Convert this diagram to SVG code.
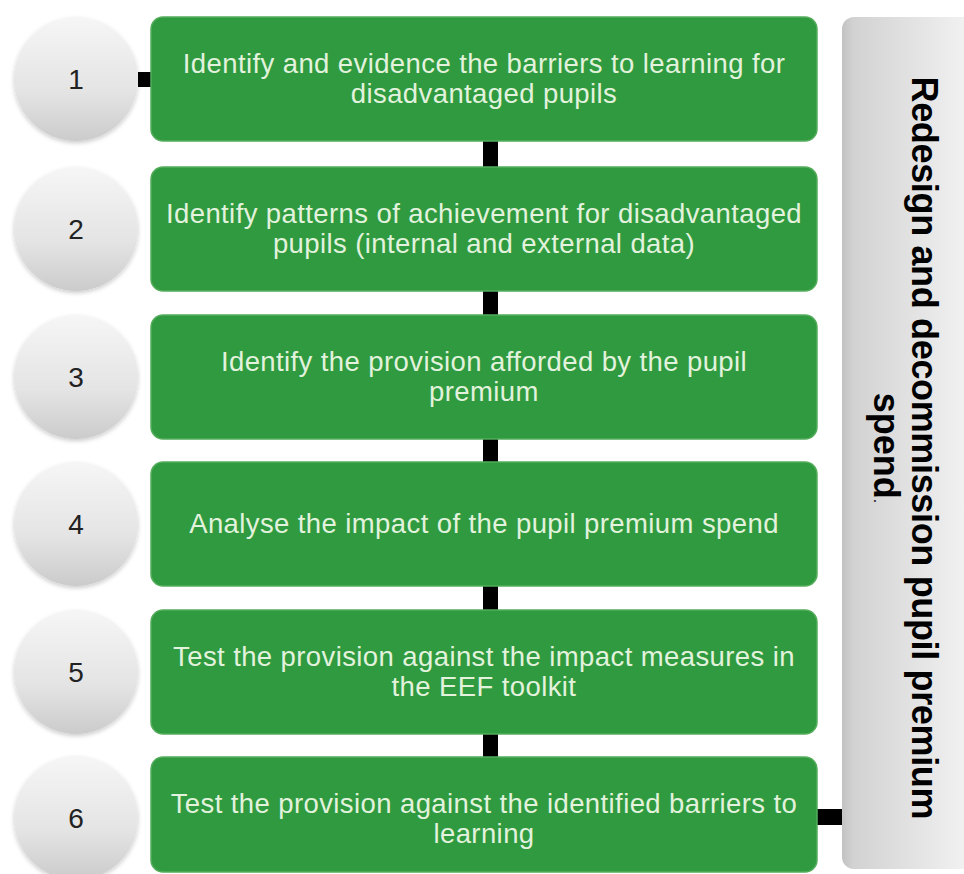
<svg xmlns="http://www.w3.org/2000/svg" width="964" height="874" viewBox="0 0 964 874">
  <defs>
    <linearGradient id="ballFill" x1="0" y1="0" x2="0" y2="1">
      <stop offset="0" stop-color="#f6f6f6"/>
      <stop offset="0.6" stop-color="#e4e4e4"/>
      <stop offset="1" stop-color="#cbcbcb"/>
    </linearGradient>
    <linearGradient id="panelFill" x1="0" y1="0" x2="1" y2="0">
      <stop offset="0" stop-color="#c2c2c2"/>
      <stop offset="0.08" stop-color="#d2d2d2"/>
      <stop offset="0.6" stop-color="#e6e6e6"/>
      <stop offset="1" stop-color="#f6f6f6"/>
    </linearGradient>
    <filter id="softShadow" x="-20%" y="-20%" width="140%" height="140%">
      <feDropShadow dx="0" dy="2" stdDeviation="2" flood-color="#000" flood-opacity="0.2"/>
    </filter>
  </defs>
  <style>
    .ball { fill: url(#ballFill); filter: url(#softShadow); }
    .num { font-family: "Liberation Sans", Arial, sans-serif; font-size: 28px; fill: #222; text-anchor: middle; }
    .step { fill: #2f9a40; stroke: #55ad5c; stroke-width: 1.5; }
    .label { font-family: "Liberation Sans", Arial, sans-serif; font-size: 27.5px; letter-spacing: 0.4px; fill: #e2f2dc; text-anchor: middle; }
    .link { fill: #000; }
    .side { fill: url(#panelFill); }
    .sideText { font-family: "Liberation Sans", Arial, sans-serif; font-weight: bold; font-size: 36px; fill: #000; text-anchor: middle; }
  </style>

  <rect width="964" height="874" fill="#fff"/>

  <!-- connectors -->
  <g id="connectors">
    <rect class="link" x="138" y="72" width="14" height="15"/>
    <rect class="link" x="483" y="140" width="15" height="28"/>
    <rect class="link" x="483" y="290" width="15" height="26"/>
    <rect class="link" x="483" y="438" width="15" height="25"/>
    <rect class="link" x="483" y="585" width="15" height="26"/>
    <rect class="link" x="483" y="733" width="15" height="25"/>
    <rect class="link" x="816" y="809" width="27" height="16"/>
  </g>

  <!-- side panel -->
  <g id="outcome">
    <rect class="side" x="842" y="17" width="140" height="852" rx="12"/>
    <g transform="translate(912,448) rotate(90)">
      <text class="sideText" x="0" y="0" textLength="743" lengthAdjust="spacing">Redesign and decommission pupil premium</text>
      <text class="sideText" x="0" y="38">spend<tspan font-weight="normal" font-size="16px">.</tspan></text>
    </g>
  </g>

  <g id="step1">
    <circle class="ball" cx="76" cy="79" r="62"/>
    <text class="num" x="76" y="89">1</text>
    <rect class="step" x="151" y="17" width="666" height="124" rx="12"/>
    <text class="label" x="484" y="73">Identify and evidence the barriers to learning for</text>
    <text class="label" x="484" y="103">disadvantaged pupils</text>
  </g>

  <g id="step2">
    <circle class="ball" cx="76" cy="229" r="62"/>
    <text class="num" x="76" y="239">2</text>
    <rect class="step" x="151" y="167" width="666" height="124" rx="12"/>
    <text class="label" x="484" y="223">Identify patterns of achievement for disadvantaged</text>
    <text class="label" x="484" y="253">pupils (internal and external data)</text>
  </g>

  <g id="step3">
    <circle class="ball" cx="76" cy="377" r="62"/>
    <text class="num" x="76" y="387">3</text>
    <rect class="step" x="151" y="315" width="666" height="124" rx="12"/>
    <text class="label" x="484" y="371">Identify the provision afforded by the pupil</text>
    <text class="label" x="484" y="401">premium</text>
  </g>

  <g id="step4">
    <circle class="ball" cx="76" cy="524" r="62"/>
    <text class="num" x="76" y="534">4</text>
    <rect class="step" x="151" y="462" width="666" height="124" rx="12"/>
    <text class="label" x="484" y="533">Analyse the impact of the pupil premium spend</text>
  </g>

  <g id="step5">
    <circle class="ball" cx="76" cy="672" r="62"/>
    <text class="num" x="76" y="682">5</text>
    <rect class="step" x="151" y="610" width="666" height="124" rx="12"/>
    <text class="label" x="484" y="666">Test the provision against the impact measures in</text>
    <text class="label" x="484" y="696">the EEF toolkit</text>
  </g>

  <g id="step6">
    <circle class="ball" cx="76" cy="818" r="62"/>
    <text class="num" x="76" y="828">6</text>
    <rect class="step" x="151" y="757" width="666" height="115" rx="12"/>
    <text class="label" x="484" y="813">Test the provision against the identified barriers to</text>
    <text class="label" x="484" y="843">learning</text>
  </g>
</svg>
